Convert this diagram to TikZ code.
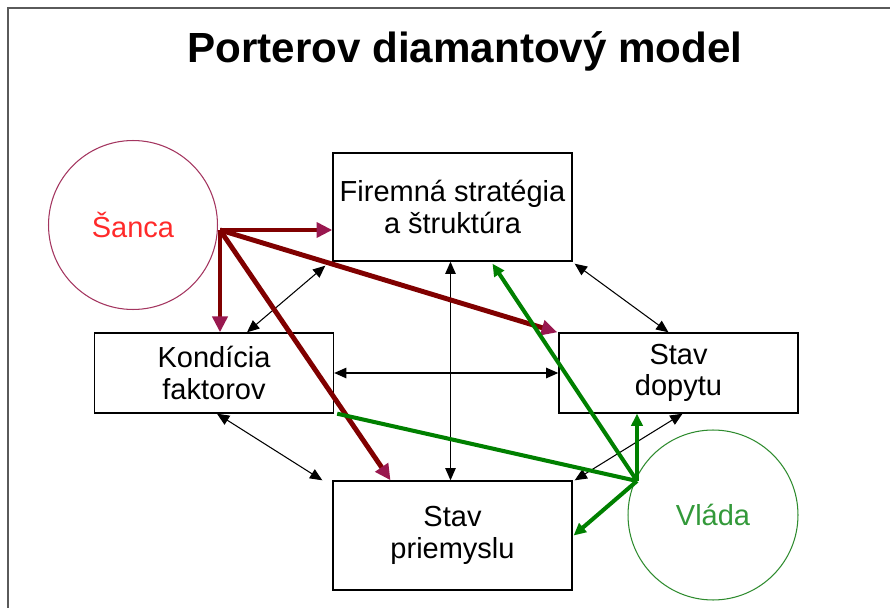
\documentclass[tikz,border=0pt]{standalone}
\usepackage{fontspec}
\setmainfont{Liberation Sans}
\usetikzlibrary{calc,arrows.meta}
\definecolor{frame}{HTML}{5A5A5A}
\definecolor{chance}{HTML}{800000}
\definecolor{chancetip}{HTML}{99184F}
\definecolor{chanceline}{HTML}{A3355F}
\definecolor{chancetext}{HTML}{FF2A2A}
\definecolor{gov}{HTML}{008000}
\definecolor{govline}{HTML}{2E8B2E}
\definecolor{govtext}{HTML}{33993A}
\tikzset{
  box/.style={draw=black, line width=0.8pt, minimum width=4.78cm, inner sep=0pt, align=center, font=\fontsize{16.5}{18}\selectfont},
  ring/.style={circle, line width=0.6pt, minimum size=3.38cm, inner sep=0pt, font=\fontsize{16.5}{18}\selectfont},
  link/.style={draw=black, line width=0.6pt, {Triangle[length=7pt,width=6pt]}-{Triangle[length=7pt,width=6pt]}},
  chancearrow/.style={draw=chance, line width=2.8pt, -{Triangle[length=9pt,width=8.5pt,color=chancetip]}},
  govarrow/.style={draw=gov, line width=2.3pt, -{Triangle[length=7pt,width=6.5pt]}},
  govline/.style={draw=gov, line width=2.3pt},
}

\begin{document}
\begin{tikzpicture}[x=0.02cm, y=-0.02cm]
  \useasboundingbox (0,0) rectangle (890,608);
  \draw[draw=frame, line width=1.1pt] (8,608) |- (890,8);
  \node[font=\fontsize{24}{28}\selectfont\bfseries, anchor=base] (title) at (465,63) {Porterov diamantový model};

  % the diamond
  \node[box, minimum height=2.16cm] (firma) at (452.5,207) {Firemná stratégia\\a štruktúra};
  \node[box, minimum height=1.6cm] (kond) at (214,373) {Kondícia\\faktorov};
  \node[box, minimum height=1.6cm] (dopyt) at (678.5,373) {Stav\\dopytu};
  \node[box, minimum height=2.18cm] (priem) at (452.5,535.5) {Stav\\priemyslu};

  % outside forces
  \node[ring, draw=chanceline, text=chancetext] (sanca) at (133,225) {Šanca};
  \node[ring, draw=govline, text=govtext, minimum size=3.4cm] (vlada) at (713,515) {Vláda};
  \coordinate (s0) at (220,230);
  \coordinate (v0) at (637,481);

  % links between the corners
  \draw[link] ($(kond.north)+(33,0)$) -- ($(firma.south west)+(-7,4)$);
  \draw[link] ($(firma.south east)+(2,2)$) -- ($(dopyt.north)+(-10,0)$);
  \draw[link] ($(kond.south)+(3,0)$) -- ($(priem.north west)+(-10,0)$);
  \draw[link] ($(dopyt.south)+(4,0)$) -- ($(priem.north east)+(2,0)$);
  \draw[link] ($(firma.south)+(-2,0)$) -- ($(priem.north)+(-2,0)$);
  \draw[link, line width=0.8pt] (kond.east) -- (dopyt.west);

  % chance
  \draw[chancearrow] (s0) -- (s0 -| firma.west);
  \draw[chancearrow] (s0) -- (s0 |- kond.north);
  \draw[chancearrow] (s0) -- ($(priem.north)+(-62,0)$);
  \draw[chancearrow] (s0) -- ($(dopyt.north west)+(-1,0)$);

  % government
  \draw[govline] (v0) -- ($(kond.south east)+(3,0)$);
  \draw[govarrow] (v0) -- ($(firma.south)+(40,2)$);
  \draw[govarrow] (v0) -- (v0 |- dopyt.south);
  \draw[govarrow] (v0) -- ($(priem.east)+(1,0)$);
\end{tikzpicture}
\end{document}
